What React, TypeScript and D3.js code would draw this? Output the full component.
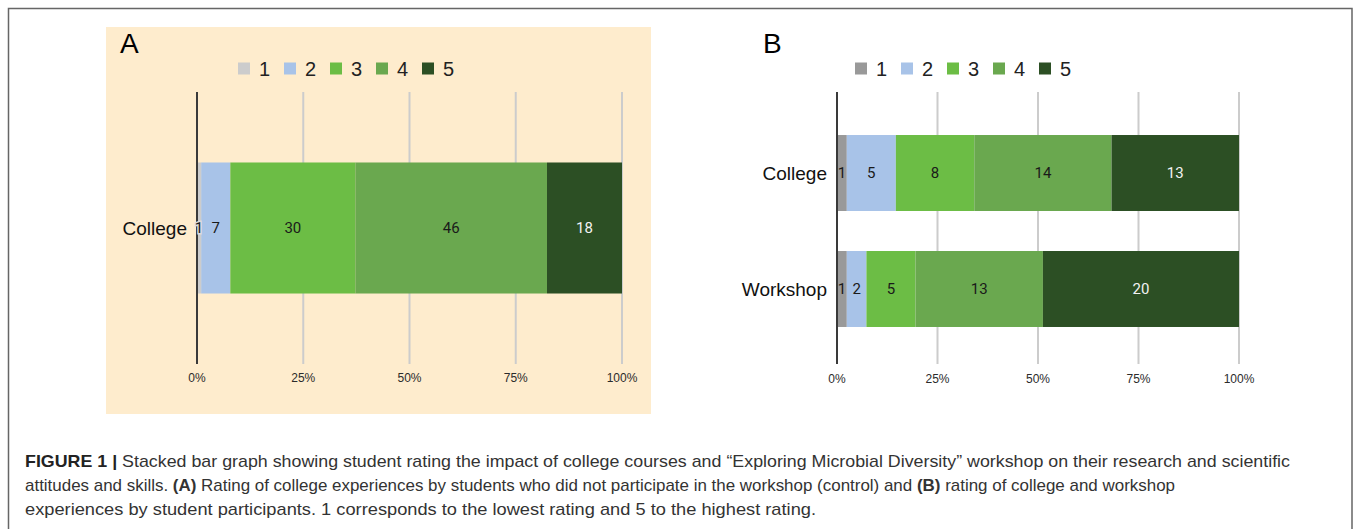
import React, { useEffect, useRef } from 'react';
import * as d3 from 'd3';

// rating levels (legend keys)
const ratingKeys = ['1', '2', '3', '4', '5'];

// panel A: students who did not take the workshop
const panelACategories = ['College'];
const panelACollege = [1, 7, 30, 46, 18];

// panel B: workshop participants
const panelBCategories = ['College', 'Workshop'];
const panelBCollege = [1, 5, 8, 14, 13];
const panelBWorkshop = [1, 2, 5, 13, 20];

const tickValues = [0, 0.25, 0.5, 0.75, 1];

const captionLines = [
  'Stacked bar graph showing student rating the impact of college courses and \u201cExploring Microbial Diversity\u201d workshop on their research and scientific',
  'attitudes and skills. ',
  'experiences by student participants. 1 corresponds to the lowest rating and 5 to the highest rating.',
];

const colorsA = ['#cccccc', '#a8c3e8', '#6cbd45', '#6aa84f', '#2c4f24'];
const colorsB = ['#999999', '#a8c3e8', '#6cbd45', '#6aa84f', '#2c4f24'];

type Row = { category: string; [k: string]: number | string };

const toRows = (cats: string[], series: number[][]): Row[] =>
  cats.map((c, i) => {
    const r: Row = { category: c };
    ratingKeys.forEach((k, j) => { r[k] = series[i][j]; });
    return r;
  });

interface PanelOpts {
  letter: string;
  letterX: number;
  rows: Row[];
  colors: string[];
  xRange: [number, number];
  yRange: [number, number];
  padInner: number;
  padOuter: number;
  legendX: number;
  tickY: number;
}

const drawPanel = (svg: d3.Selection<SVGSVGElement, unknown, null, undefined>, o: PanelOpts) => {
  const g = svg.append('g');
  const gridTop = 92;
  const gridBottom = 364;

  const x = d3.scaleLinear().domain([0, 1]).range(o.xRange);
  const y = d3.scaleBand<string>()
    .domain(o.rows.map((r) => r.category))
    .range(o.yRange)
    .paddingInner(o.padInner)
    .paddingOuter(o.padOuter);

  // panel letter
  g.append('text')
    .attr('x', o.letterX)
    .attr('y', 53)
    .attr('font-family', 'Liberation Sans, Arial, sans-serif')
    .attr('font-size', 28)
    .attr('fill', '#000')
    .text(o.letter);

  // legend
  const leg = g.selectAll('.leg').data(ratingKeys).enter().append('g')
    .attr('transform', (_, i) => `translate(${o.legendX + i * 46},62.5)`);
  leg.append('rect').attr('width', 12).attr('height', 12).attr('fill', (_, i) => o.colors[i]);
  leg.append('text')
    .attr('x', 21).attr('y', 13.3)
    .attr('font-family', 'Liberation Sans, Arial, sans-serif')
    .attr('font-size', 20)
    .attr('fill', '#222')
    .text((d) => d);

  // gridlines
  g.selectAll('.grid').data(tickValues.slice(1)).enter().append('line')
    .attr('x1', (d) => x(d)).attr('x2', (d) => x(d))
    .attr('y1', gridTop).attr('y2', gridBottom)
    .attr('stroke', '#cccccc').attr('stroke-width', 2);

  // tick labels
  g.selectAll('.tick').data(tickValues).enter().append('text')
    .attr('x', (d) => x(d))
    .attr('y', o.tickY)
    .attr('text-anchor', 'middle')
    .attr('font-family', 'Liberation Sans, Arial, sans-serif')
    .attr('font-size', 12)
    .attr('fill', '#2b2b2b')
    .text((d) => d3.format('.0%')(d));

  // stacked bars
  const stack = d3.stack<Row>().keys(ratingKeys).value((d, k) => d[k] as number).offset(d3.stackOffsetExpand);
  const layers = stack(o.rows);

  layers.forEach((layer, li) => {
    g.selectAll(`.seg${li}`).data(layer).enter().append('rect')
      .attr('x', (d) => x(d[0]))
      .attr('y', (d) => y(d.data.category)!)
      .attr('width', (d) => x(d[1]) - x(d[0]))
      .attr('height', y.bandwidth())
      .attr('fill', o.colors[li]);
  });

  // 0% axis line
  g.append('line')
    .attr('x1', x(0)).attr('x2', x(0))
    .attr('y1', gridTop).attr('y2', gridBottom)
    .attr('stroke', '#3a3a3a').attr('stroke-width', 2);

  layers.forEach((layer, li) => {
    g.selectAll(`.lab${li}`).data(layer).enter().append('text')
      .attr('x', (d) => (x(d[0]) + x(d[1])) / 2)
      .attr('y', (d) => y(d.data.category)! + y.bandwidth() / 2 + 5)
      .attr('text-anchor', 'middle')
      .attr('font-family', 'Roboto, sans-serif')
      .attr('font-size', 15)
      .attr('fill', li === 4 ? '#f2f2f2' : '#1a1a1a')
      .attr('stroke', li === 0 && o.letter === 'A' ? '#dcdcdc' : 'none')
      .attr('stroke-width', 3)
      .attr('paint-order', 'stroke')
      .text((d) => d.data[layer.key] as number);
  });

  // category labels
  g.selectAll('.cat').data(o.rows).enter().append('text')
    .attr('x', x(0) - 10)
    .attr('y', (d) => y(d.category)! + y.bandwidth() / 2 + 7)
    .attr('text-anchor', 'end')
    .attr('font-family', 'Liberation Sans, Arial, sans-serif')
    .attr('font-size', 19)
    .attr('fill', '#111')
    .text((d) => d.category);
};

const App: React.FC = () => {
  const ref = useRef<SVGSVGElement | null>(null);

  useEffect(() => {
    if (!ref.current) return;
    const svg = d3.select(ref.current);
    svg.selectAll('*').remove();

    // outer frame
    svg.append('path')
      .attr('d', 'M8.5,529 V8.5 H1352 V529')
      .attr('fill', 'none')
      .attr('stroke', '#666')
      .attr('stroke-width', 1.5);

    // panel A background
    svg.append('rect')
      .attr('x', 106).attr('y', 27).attr('width', 545).attr('height', 387)
      .attr('fill', '#feeccd');

    drawPanel(svg, {
      letter: 'A',
      letterX: 120,
      rows: toRows(panelACategories, [panelACollege]),
      colors: colorsA,
      xRange: [197, 622],
      yRange: [92, 364],
      padInner: 0,
      padOuter: 0.538,
      legendX: 238,
      tickY: 382,
    });

    drawPanel(svg, {
      letter: 'B',
      letterX: 763,
      rows: toRows(panelBCategories, [panelBCollege, panelBWorkshop]),
      colors: colorsB,
      xRange: [837, 1239],
      yRange: [95, 367],
      padInner: 0.345,
      padOuter: 0.345,
      legendX: 855,
      tickY: 383,
    });

    // caption
    const cap = svg.append('g')
      .attr('font-family', 'Liberation Sans Narrow, Arial Narrow, sans-serif')
      .attr('font-size', 17)
      .attr('fill', '#333');

    const l1 = cap.append('text').attr('x', 25).attr('y', 467).attr('textLength', 1265).attr('lengthAdjust', 'spacingAndGlyphs');
    l1.append('tspan').attr('font-weight', 'bold').attr('fill', '#222').text('FIGURE 1 | ');
    l1.append('tspan').text(captionLines[0]);

    const l2 = cap.append('text').attr('x', 25).attr('y', 491).attr('textLength', 1150).attr('lengthAdjust', 'spacingAndGlyphs');
    l2.append('tspan').text(captionLines[1]);
    l2.append('tspan').attr('font-weight', 'bold').text('(A)');
    l2.append('tspan').text(' Rating of college experiences by students who did not participate in the workshop (control) and ');
    l2.append('tspan').attr('font-weight', 'bold').text('(B)');
    l2.append('tspan').text(' rating of college and workshop');

    cap.append('text').attr('x', 25).attr('y', 515).attr('textLength', 791).attr('lengthAdjust', 'spacingAndGlyphs')
      .text(captionLines[2]);
  }, []);

  return (
    <svg
      ref={ref}
      width={1357}
      height={529}
      style={{ position: 'absolute', left: 0, top: 0, background: '#fff' }}
    />
  );
};

export default App;
